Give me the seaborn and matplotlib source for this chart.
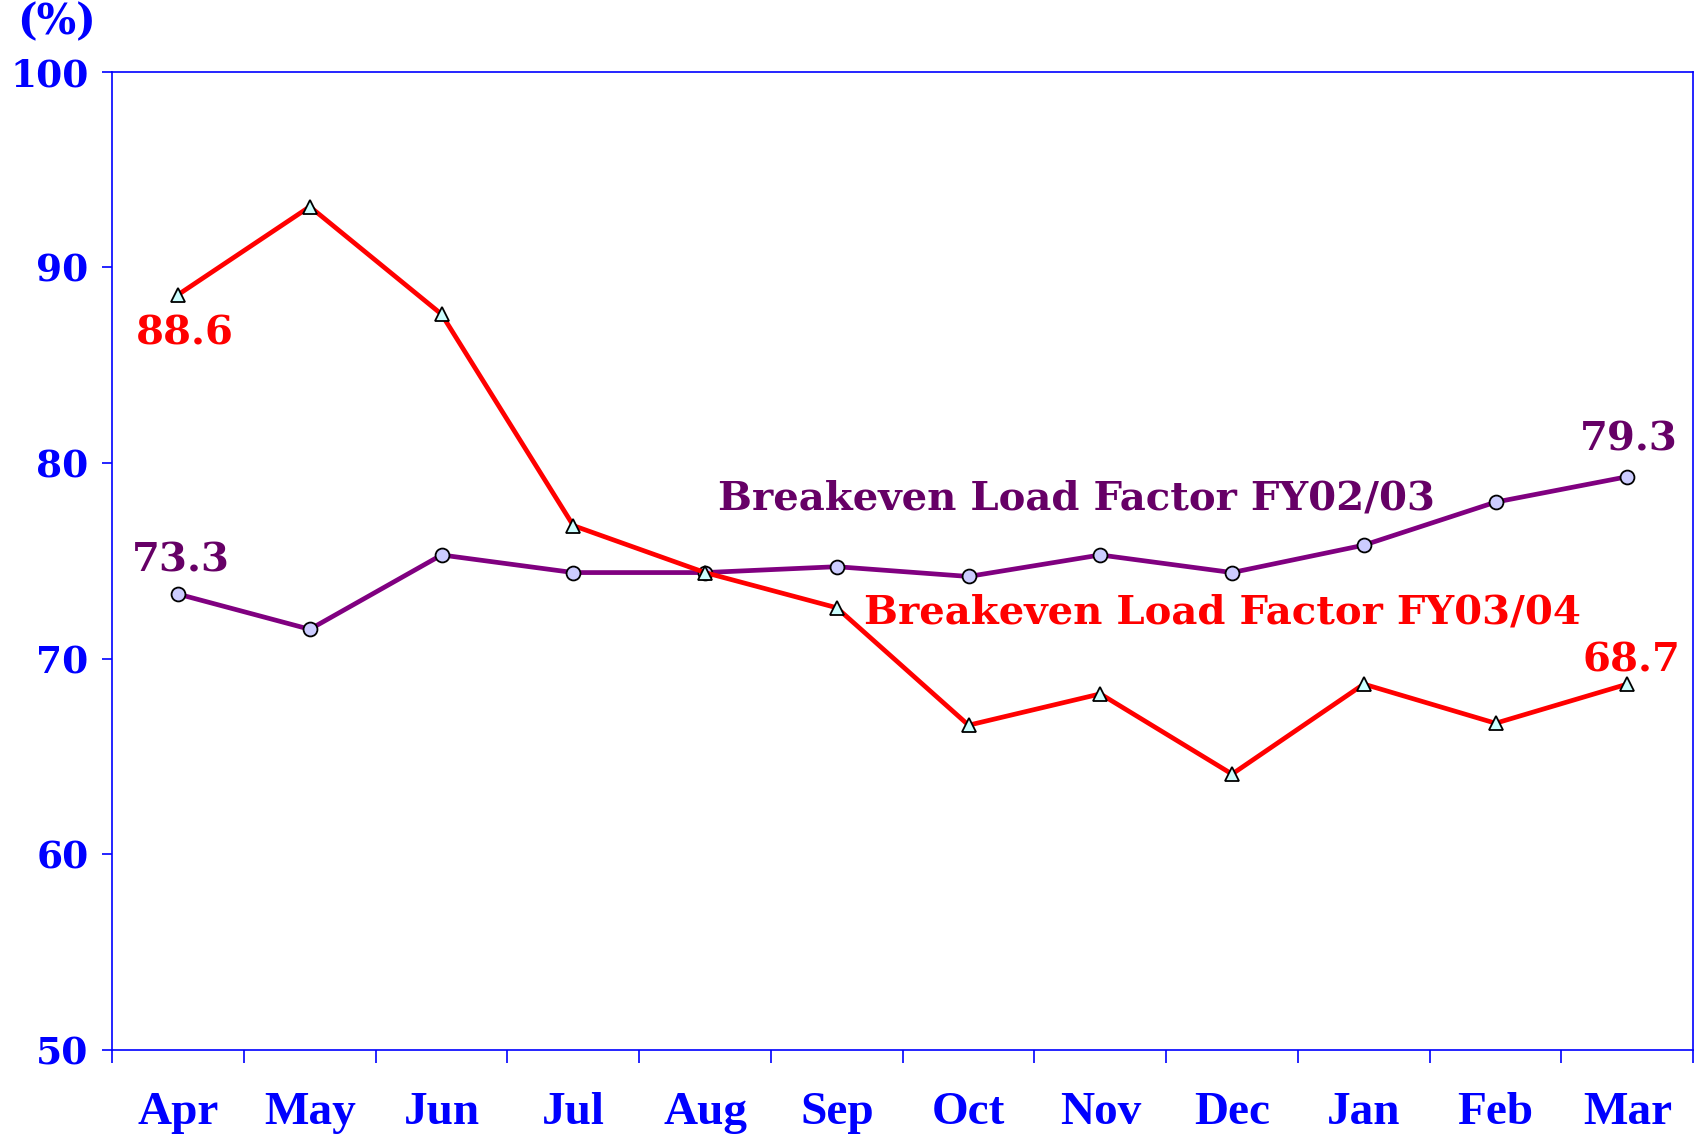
import numpy as np
import pandas as pd
import matplotlib
matplotlib.use('Agg')
import matplotlib.pyplot as plt
from matplotlib.ticker import FixedLocator, NullFormatter
import seaborn as sns

MONTHS = ['Apr', 'May', 'Jun', 'Jul', 'Aug', 'Sep', 'Oct', 'Nov', 'Dec', 'Jan', 'Feb', 'Mar']
FY0203 = [73.3, 71.5, 75.3, 74.4, 74.4, 74.7, 74.2, 75.3, 74.4, 75.8, 78.0, 79.3]
FY0304 = [88.6, 93.1, 87.6, 76.8, 74.4, 72.6, 66.6, 68.2, 64.1, 68.7, 66.7, 68.7]
Y_TICKS = [50, 60, 70, 80, 90, 100]

BLUE = '#0000ff'
RED = '#ff0000'
PURPLE = '#800080'
PURPLE_TXT = '#660066'
NUM_FONT = 'DejaVu Serif'
MONTH_FONT = 'Liberation Serif'

sns.set_theme(style='white')
plt.rcParams['font.family'] = [NUM_FONT, 'DejaVu Sans']

pos = np.arange(len(MONTHS))
df = pd.DataFrame({'pos': pos, 'month': MONTHS, 'fy0203': FY0203, 'fy0304': FY0304})

fig = plt.figure(figsize=(17, 11.37), dpi=100)
ax = fig.add_subplot(111)
fig.subplots_adjust(left=0.066, right=0.996, top=0.937, bottom=0.0765)

sns.lineplot(data=df, x='pos', y='fy0203', ax=ax, color=PURPLE, linewidth=3.4,
             marker='o', markersize=10, markerfacecolor='#ccccff',
             markeredgecolor='black', markeredgewidth=1.3, zorder=3)
sns.lineplot(data=df, x='pos', y='fy0304', ax=ax, color=RED, linewidth=3.4,
             marker='^', markersize=10, markerfacecolor='#ccffff',
             markeredgecolor='black', markeredgewidth=1.3, zorder=4)

ax.set_xlim(-0.5, len(MONTHS) - 0.5)
ax.set_ylim(50, 100)
ax.set_xlabel('')
ax.set_ylabel('')

# x: ticks at category boundaries, labels at centres
ax.xaxis.set_major_locator(FixedLocator(np.arange(len(MONTHS) + 1) - 0.5))
ax.xaxis.set_major_formatter(NullFormatter())
ax.xaxis.set_minor_locator(FixedLocator(pos))
ax.set_xticklabels(MONTHS, minor=True)
ax.tick_params(axis='x', which='major', direction='out', length=9, width=1.2,
               color=BLUE, bottom=True)
ax.tick_params(axis='x', which='minor', length=0, pad=30, bottom=True)
for lbl in ax.get_xticklabels(minor=True):
    lbl.set_fontfamily(MONTH_FONT)
    lbl.set_fontweight('bold')
    lbl.set_fontsize(34)
    lbl.set_color(BLUE)

ax.set_yticks(Y_TICKS)
ax.set_yticklabels([str(v) for v in Y_TICKS])
ax.tick_params(axis='y', direction='out', length=7, width=1.2, color=BLUE,
               left=True, pad=10)
for lbl in ax.get_yticklabels():
    lbl.set_fontweight('bold')
    lbl.set_fontsize(27)
    lbl.set_color(BLUE)

for sp in ax.spines.values():
    sp.set_color(BLUE)
    sp.set_linewidth(1.2)
ax.grid(False)

fig.text(0.033, 0.98, '(%)', color=BLUE, fontsize=30, fontweight='bold',
         ha='center', va='center')

ax.text(6.82, 78.2, 'Breakeven Load Factor FY02/03', color=PURPLE_TXT,
        fontsize=29, fontweight='bold', ha='center', va='center')
ax.text(7.93, 72.35, 'Breakeven Load Factor FY03/04', color=RED,
        fontsize=29, fontweight='bold', ha='center', va='center')

ax.text(0.05, 86.6, f'{FY0304[0]:.1f}', color=RED, fontsize=29,
        fontweight='bold', ha='center', va='center')
ax.text(11.03, 69.9, f'{FY0304[-1]:.1f}', color=RED, fontsize=29,
        fontweight='bold', ha='center', va='center')
ax.text(0.02, 75.0, f'{FY0203[0]:.1f}', color=PURPLE_TXT, fontsize=29,
        fontweight='bold', ha='center', va='center')
ax.text(11.01, 81.2, f'{FY0203[-1]:.1f}', color=PURPLE_TXT, fontsize=29,
        fontweight='bold', ha='center', va='center')

fig.savefig('out.png', dpi=100)
